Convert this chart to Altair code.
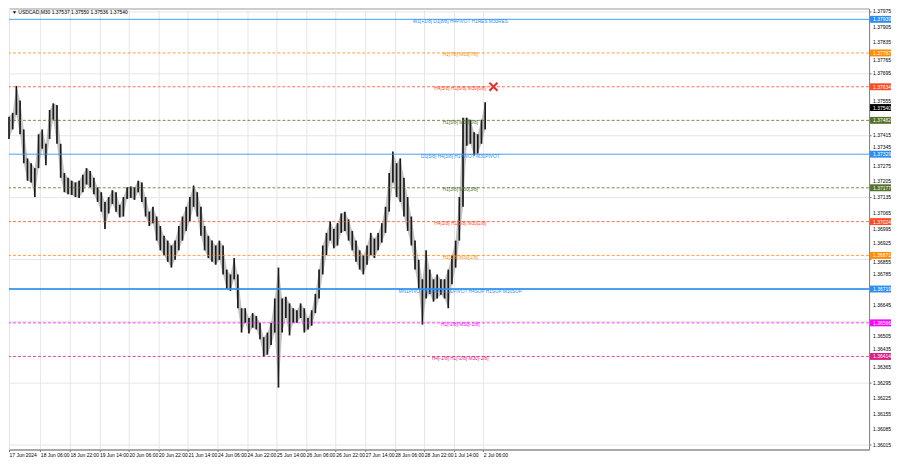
import altair as alt
import pandas as pd

# ---------------- data ----------------
# 2-hour price ranges (every 4th M30 bar)
HIGH = [1.37498, 1.37516, 1.37638, 1.37572, 1.37441, 1.37310, 1.37288, 1.37266, 1.37419, 1.37441,
        1.37376, 1.37529, 1.37559, 1.37551, 1.37376, 1.37244, 1.37222, 1.37209, 1.37201, 1.37209,
        1.37236, 1.37266, 1.37253, 1.37222, 1.37179, 1.37157, 1.37113, 1.37135, 1.37166, 1.37157,
        1.37100, 1.37135, 1.37179, 1.37183, 1.37179, 1.37209, 1.37201, 1.37135, 1.37069, 1.37091,
        1.37047, 1.37004, 1.36960, 1.36938, 1.36916, 1.36938, 1.37004, 1.37047, 1.37091, 1.37135,
        1.37187, 1.37157, 1.37091, 1.37004, 1.36960, 1.36938, 1.36916, 1.36938, 1.36916, 1.36807,
        1.36785, 1.36859, 1.36785, 1.36632, 1.36632, 1.36588, 1.36610, 1.36597, 1.36566, 1.36501,
        1.36522, 1.36566, 1.36676, 1.36816, 1.36676, 1.36684, 1.36654, 1.36632, 1.36623, 1.36654,
        1.36632, 1.36588, 1.36623, 1.36697, 1.36807, 1.36916, 1.36973, 1.37026, 1.36991, 1.37017,
        1.37061, 1.37069, 1.37034, 1.36982, 1.36938, 1.36894, 1.36872, 1.36916, 1.36973, 1.36947,
        1.36973, 1.37017, 1.37091, 1.37244, 1.37341, 1.37288, 1.37310, 1.37222, 1.37135, 1.37047,
        1.36938, 1.36851, 1.36763, 1.36894, 1.36807, 1.36763, 1.36785, 1.36763, 1.36763, 1.36807,
        1.36872, 1.36938, 1.37135, 1.37494, 1.37494, 1.37485, 1.37428, 1.37419, 1.37485, 1.37564]
LOW = [1.37398, 1.37441, 1.37507, 1.37419, 1.37288, 1.37209, 1.37201, 1.37135, 1.37266, 1.37354,
       1.37279, 1.37398, 1.37485, 1.37376, 1.37222, 1.37157, 1.37148, 1.37144, 1.37135, 1.37131,
       1.37157, 1.37192, 1.37179, 1.37148, 1.37113, 1.37069, 1.36991, 1.37061, 1.37104, 1.37069,
       1.37043, 1.37047, 1.37126, 1.37131, 1.37122, 1.37157, 1.37113, 1.37047, 1.37004, 1.37017,
       1.36938, 1.36894, 1.36872, 1.36842, 1.36816, 1.36851, 1.36894, 1.36938, 1.36982, 1.37026,
       1.37091, 1.37047, 1.36960, 1.36894, 1.36859, 1.36842, 1.36829, 1.36851, 1.36785, 1.36719,
       1.36711, 1.36763, 1.36632, 1.36522, 1.36566, 1.36518, 1.36544, 1.36536, 1.36492, 1.36413,
       1.36422, 1.36466, 1.36522, 1.36273, 1.36522, 1.36588, 1.36509, 1.36566, 1.36566, 1.36588,
       1.36522, 1.36536, 1.36553, 1.36610, 1.36676, 1.36785, 1.36872, 1.36938, 1.36903, 1.36916,
       1.36973, 1.36982, 1.36938, 1.36894, 1.36842, 1.36807, 1.36785, 1.36829, 1.36872, 1.36859,
       1.36894, 1.36929, 1.36973, 1.37069, 1.37201, 1.37135, 1.37113, 1.37047, 1.36982, 1.36916,
       1.36807, 1.36719, 1.36558, 1.36676, 1.36697, 1.36662, 1.36676, 1.36693, 1.36676, 1.36632,
       1.36741, 1.36816, 1.36938, 1.37091, 1.37367, 1.37376, 1.37323, 1.37332, 1.37376, 1.37441]
BAR = list(range(0, 4 * len(HIGH), 4))   # M30 bar number of each 2-hour range

TICK_BARS = [0, 34, 66, 98, 130, 162, 194, 226, 258, 290, 322, 354, 386, 418, 450, 482, 514]
TICK_LABELS = ["17 Jun 2024", "18 Jun 06:00", "18 Jun 22:00", "19 Jun 14:00", "20 Jun 06:00",
               "20 Jun 22:00", "21 Jun 14:00", "24 Jun 06:00", "24 Jun 22:00", "25 Jun 14:00",
               "26 Jun 06:00", "26 Jun 22:00", "27 Jun 14:00", "28 Jun 06:00", "28 Jun 22:00",
               "1 Jul 14:00", "2 Jul 06:00"]

PRICE_TICKS = [1.36015, 1.36085, 1.36155, 1.36225, 1.36295, 1.36365, 1.36435, 1.36505, 1.36575,
               1.36645, 1.36715, 1.36785, 1.36855, 1.36925, 1.36995, 1.37065, 1.37135, 1.37205,
               1.37275, 1.37345, 1.37415, 1.37485, 1.37555, 1.37625, 1.37695, 1.37765, 1.37835,
               1.37905, 1.37975]

LEVEL_PRICE = [1.37939, 1.37787, 1.37634, 1.37482, 1.37329, 1.37177, 1.37024, 1.36871, 1.36719,
               1.36566, 1.36414]
LEVEL_TEXT = ["W1[+1/8] D1[8/8] H4PIVOT H1RES M30RES", "H1[7/8] M30[7/8]",
              "H4[5/8] H1[6/8] M30[6/8]", "H1[5/8] M30[5/8]",
              "D1[5/8] H4[3/8] H1PIVOT M30PIVOT", "H1[3/8] M30[3/8]",
              "H4[1/8] H1[2/8] M30[2/8]", "H1[1/8] M30[1/8]",
              "MN1PIVOT W1PIVOT D1PIVOT H4SUP H1SUP M30SUP", "H1[-1/8] M30[-1/8]",
              "H4[-1/8] H1[-2/8] M30[-2/8]"]
LEVEL_KIND = ["pivot", "dash", "dash", "dash", "pivot", "dash", "dash", "dash", "main",
              "dash", "dash"]
LEVEL_COLOR = ["#2b8ff0", "#ff8c00", "#ff4a22", "#55702a", "#2b8ff0", "#55702a", "#ff4a22",
               "#ff8c00", "#2b8ff0", "#ff00ff", "#dc1e82"]

LAST_PRICE = 1.37540
HEADER = "\u25BC USDCAD,M30  1.37537 1.37550 1.37536 1.37540"
MARK_BAR = 525          # position of the red cross on the H4[5/8] level
MARK_PRICE = 1.37634

# ---------------- layout ----------------
W, H = 862, 442
FONT = "Liberation Sans"
FS = 5
LABEL_BAR = 489
X_DOMAIN = [0, 932]
Y_DOMAIN = [1.35993, 1.37988]
PX_PER_PRICE = H / (Y_DOMAIN[1] - Y_DOMAIN[0])
MIN_GAP_PX = 7.0

candles = pd.DataFrame({"bar": BAR, "high": HIGH, "low": LOW})
levels = pd.DataFrame({"price": LEVEL_PRICE, "text": LEVEL_TEXT, "kind": LEVEL_KIND,
                       "color": LEVEL_COLOR})
box_prices = LEVEL_PRICE + [LAST_PRICE]
boxes = pd.DataFrame({"price": box_prices, "color": LEVEL_COLOR + ["#000000"]})

# price labels: the ones fully covered by a coloured box are not drawn, the ones that
# peek out next to a box are placed just clear of it
tick_rows = []
for p in PRICE_TICKS:
    near = min(box_prices, key=lambda b: abs(p - b))
    d_px = abs(p - near) * PX_PER_PRICE
    if d_px < 2.7:
        continue
    pos = p
    if d_px < MIN_GAP_PX:
        pos = near + (MIN_GAP_PX / PX_PER_PRICE) * (1 if p > near else -1)
    tick_rows.append({"price": p, "pos": pos})
ticks = pd.DataFrame(tick_rows)

label_expr = ("[" + ",".join("'%s'" % t for t in TICK_LABELS) + "][indexof(["
              + ",".join(str(b) for b in TICK_BARS) + "], datum.value)]")

xscale = alt.Scale(domain=X_DOMAIN, nice=False, zero=False)
yscale = alt.Scale(domain=Y_DOMAIN, nice=False, zero=False)

x_axis = alt.Axis(values=TICK_BARS, labelExpr=label_expr, labelAlign="left", labelFontSize=FS,
                  labelFont=FONT, labelColor="#000", tickSize=2, tickColor="#777",
                  domainColor="#888", gridColor="#e6e6e6", labelPadding=1, title=None,
                  labelOverlap=False, labelFlush=False)
y_axis = alt.Axis(values=PRICE_TICKS, orient="right", labels=False, tickSize=2,
                  tickColor="#777", domainColor="#888", gridColor="#e6e6e6", title=None)

base_x = alt.X("bar:Q", scale=xscale, axis=x_axis)

envelope = alt.Chart(candles).mark_area(color="#8a8a8a", opacity=0.5).encode(
    x=base_x,
    y=alt.Y("low:Q", scale=yscale, axis=y_axis),
    y2="high:Q",
)
candle_layer = alt.Chart(candles).mark_rule(strokeWidth=1.7, color="#1a1a1a").encode(
    x=alt.X("bar:Q", scale=xscale),
    y=alt.Y("low:Q", scale=yscale),
    y2="high:Q",
)

lv = alt.Chart(levels)
dashed = lv.transform_filter("datum.kind == 'dash'").mark_rule(
    strokeWidth=1, strokeDash=[3, 2], opacity=0.8).encode(
    y=alt.Y("price:Q", scale=yscale), color=alt.Color("color:N", scale=None))
solid = lv.transform_filter("datum.kind == 'pivot'").mark_rule(strokeWidth=1, opacity=0.85).encode(
    y=alt.Y("price:Q", scale=yscale), color=alt.Color("color:N", scale=None))
main = lv.transform_filter("datum.kind == 'main'").mark_rule(strokeWidth=2, opacity=0.85).encode(
    y=alt.Y("price:Q", scale=yscale), color=alt.Color("color:N", scale=None))

level_text = lv.mark_text(fontSize=4.8, font=FONT, align="center", baseline="middle",
                          dy=2.5).encode(
    x=alt.datum(LABEL_BAR, scale=xscale),
    y=alt.Y("price:Q", scale=yscale),
    text="text:N",
    color=alt.Color("color:N", scale=None),
)

tick_text = alt.Chart(ticks).mark_text(fontSize=FS, font=FONT, align="left", baseline="middle",
                                       color="#000", clip=False).encode(
    x=alt.value(W + 4),
    y=alt.Y("pos:Q", scale=yscale),
    text=alt.Text("price:Q", format=".5f"),
)

box_shape = "M-1,-0.33L1,-0.33L1,0.33L-1,0.33Z"
box_layer = alt.Chart(boxes).mark_point(shape=box_shape, filled=True, opacity=1,
                                        size=441, strokeWidth=0, clip=False).encode(
    x=alt.value(W + 11.5),
    y=alt.Y("price:Q", scale=yscale),
    color=alt.Color("color:N", scale=None),
)
box_text = alt.Chart(boxes).mark_text(fontSize=FS, font=FONT, align="left", baseline="middle",
                                      color="#ffffff", clip=False).encode(
    x=alt.value(W + 4),
    y=alt.Y("price:Q", scale=yscale),
    text=alt.Text("price:Q", format=".5f"),
)

cross = alt.Chart(pd.DataFrame({"bar": [MARK_BAR], "price": [MARK_PRICE]})).mark_point(
    shape="M-1,-1L1,1M1,-1L-1,1", filled=False, size=64, strokeWidth=2.2,
    color="#e8302a", opacity=1).encode(
    x=alt.X("bar:Q", scale=xscale),
    y=alt.Y("price:Q", scale=yscale),
)

header = alt.Chart(pd.DataFrame({"t": [HEADER]})).mark_text(
    fontSize=FS, font=FONT, align="left", baseline="middle", color="#000").encode(
    x=alt.value(3), y=alt.value(4), text="t:N")

chart = alt.layer(envelope, candle_layer, solid, main, dashed, level_text, cross, tick_text,
                  box_layer, box_text, header).properties(
    width=W, height=H, padding=0, background="#ffffff"
).configure_view(stroke="#999999", strokeWidth=1)

chart.save("out.html", embed_options={"renderer": "svg", "actions": False})
